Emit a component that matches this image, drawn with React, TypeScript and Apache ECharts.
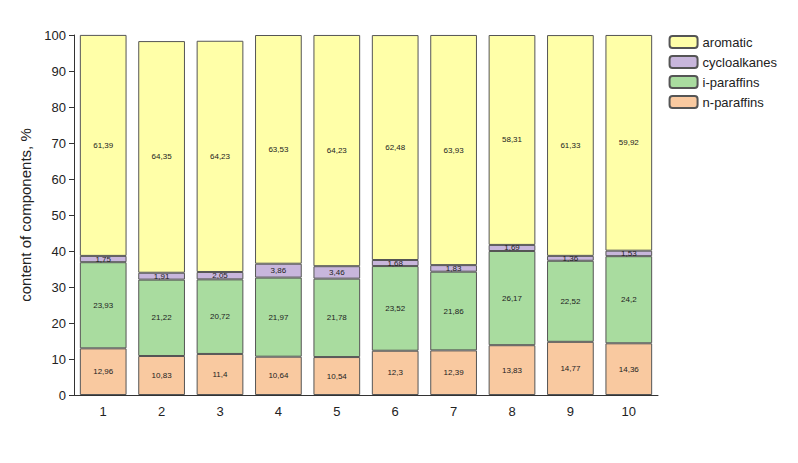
import * as React from "react";
import * as echarts from "echarts";

const categories = ["1", "2", "3", "4", "5", "6", "7", "8", "9", "10"];
const nParaffins = [12.96, 10.83, 11.4, 10.64, 10.54, 12.3, 12.39, 13.83, 14.77, 14.36];
const iParaffins = [23.93, 21.22, 20.72, 21.97, 21.78, 23.52, 21.86, 26.17, 22.52, 24.2];
const cycloalkanes = [1.75, 1.91, 2.05, 3.86, 3.46, 1.68, 1.83, 1.69, 1.36, 1.53];
const aromatic = [61.39, 64.35, 64.23, 63.53, 64.23, 62.48, 63.93, 58.31, 61.33, 59.92];

const seriesDefs = [
  { name: "n-paraffins", data: nParaffins, color: "#f9c9a0" },
  { name: "i-paraffins", data: iParaffins, color: "#a9dc9f" },
  { name: "cycloalkanes", data: cycloalkanes, color: "#c8b6dc" },
  { name: "aromatic", data: aromatic, color: "#ffffa8" },
];

export default function App() {
  const ref = React.useRef<HTMLDivElement | null>(null);

  React.useEffect(() => {
    if (!ref.current) return;
    const chart = echarts.init(ref.current, undefined, { renderer: "svg" });
    chart.setOption({
      animation: false,
      textStyle: { fontFamily: "Arial, Liberation Sans, sans-serif" },
      grid: { left: 66, right: 132, top: 27, bottom: 60 },
      legend: {
        orient: "vertical",
        right: 8,
        top: 22,
        itemWidth: 28,
        itemHeight: 12,
        itemGap: 6,
        data: ["aromatic", "cycloalkanes", "i-paraffins", "n-paraffins"],
        textStyle: { fontSize: 13, color: "#222" },
      },
      xAxis: {
        type: "category",
        data: categories,
        axisLine: { lineStyle: { color: "#333" } },
        axisTick: { alignWithLabel: true, length: 5 },
        axisLabel: { fontSize: 13, color: "#222", margin: 10 },
      },
      yAxis: {
        type: "value",
        min: 0,
        max: 100,
        interval: 10,
        name: "content of components, %",
        nameLocation: "middle",
        nameGap: 40,
        nameTextStyle: { fontSize: 15, color: "#222" },
        axisLine: { show: true, lineStyle: { color: "#333" } },
        axisTick: { show: true, length: 5 },
        splitLine: { show: false },
        axisLabel: { fontSize: 13, color: "#222" },
      },
      series: seriesDefs.map((s) => ({
        name: s.name,
        type: "bar",
        stack: "total",
        barWidth: "80%",
        data: s.data,
        itemStyle: { color: s.color, borderColor: "#555", borderWidth: 1 },
        label: {
          show: true,
          position: "inside",
          fontSize: 8,
          color: "#222",
          formatter: (p: any) => String(p.value).replace(".", ","),
        },
      })),
    });
    return () => chart.dispose();
  }, []);

  return <div ref={ref} style={{ width: 782, height: 447 }} />;
}
